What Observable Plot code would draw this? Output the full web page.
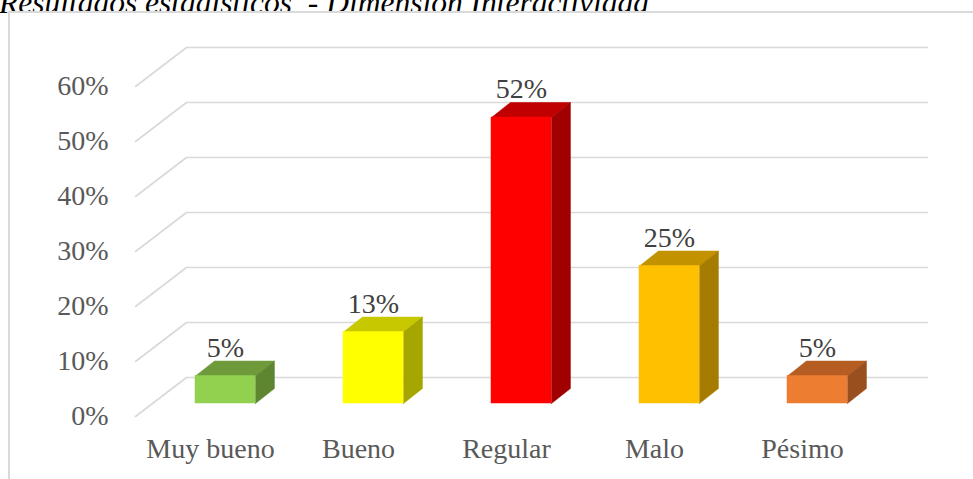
<!DOCTYPE html>
<html>
<head>
<meta charset="utf-8">
<script src="https://cdn.jsdelivr.net/npm/d3@7"></script>
<script src="https://cdn.jsdelivr.net/npm/@observablehq/plot@0.6"></script>
<style>
  html, body { margin: 0; padding: 0; background: #fff; }
  #wrap { position: relative; width: 973px; height: 479px; overflow: hidden; background: #fff; }
  #title { position: absolute; left: -1px; top: -13px; font-family: "Liberation Serif", "Times New Roman", serif; font-style: italic; font-size: 31.5px; line-height: 31.5px; color: #000; white-space: pre; }
  #frame { position: absolute; left: 8px; top: 11px; width: 980px; height: 480px; border-left: 2px solid #d9d9d9; border-top: 2px solid #d9d9d9; box-sizing: border-box; }
  #chart { position: absolute; left: 0; top: 0; }
</style>
</head>
<body>
<div id="wrap">
  <div id="title">Resultados estadísticos  - Dimensión Interactividad</div>
  <div id="frame"></div>
  <div id="chart"></div>
</div>
<script>
const categories = ["Muy bueno", "Bueno", "Regular", "Malo", "Pésimo"];
const values = [5, 13, 52, 25, 5];
const labels = ["5%", "13%", "52%", "25%", "5%"];
const frontColors = ["#92D050", "#FFFF00", "#FF0000", "#FFC000", "#ED7D31"];
const topColors = ["#6F9A3C", "#C8C800", "#C00000", "#C29200", "#B55D22"];
const sideColors = ["#5E8530", "#A6A600", "#A00000", "#A67C00", "#9A4F1E"];
const ticks = [0, 10, 20, 30, 40, 50, 60];
const tickLabels = ["0%", "10%", "20%", "30%", "40%", "50%", "60%"];

// geometry (in scale units)
const half = 0.2027;      // half bar width
const ddx = 0.128;        // depth offset x
const ddy = 2.727;        // depth offset y
const gridFrontX = -0.608, gridBackX = -0.2635, gridEndX = 4.743;
const gridFrontDY = -2.364, gridBackDY = 4.727;

const bars = categories.map((c, i) => ({i, c, v: values[i], label: labels[i]}));

const faces = [];
bars.forEach(b => {
  const x0 = b.i - half, x1 = b.i + half;
  [[x0, b.v], [x1, b.v], [x1 + ddx, b.v + ddy], [x0 + ddx, b.v + ddy], [x0, b.v]].forEach(([x, y]) =>
    faces.push({id: "t" + b.i, x, y, color: topColors[b.i]}));
  [[x1, 0], [x1, b.v], [x1 + ddx, b.v + ddy], [x1 + ddx, ddy], [x1, 0]].forEach(([x, y]) =>
    faces.push({id: "s" + b.i, x, y, color: sideColors[b.i]}));
});

const grid = [];
ticks.forEach(t => {
  grid.push({t, x: gridFrontX, y: t + gridFrontDY});
  grid.push({t, x: gridBackX, y: t + gridBackDY});
  grid.push({t, x: gridEndX, y: t + gridBackDY});
});
const tickData = ticks.map((t, k) => ({t, label: tickLabels[k]}));

const font = "Liberation Serif, Times New Roman, serif";

const chart = Plot.plot({
  width: 973,
  height: 479,
  marginTop: 0, marginBottom: 0, marginLeft: 0, marginRight: 0,
  style: {background: "transparent", overflow: "visible", fontFamily: font},
  x: {type: "linear", domain: [0, 4], range: [225, 817], axis: null},
  y: {type: "linear", domain: [0, 60], range: [403, 73], axis: null},
  color: {type: "identity"},
  marks: [
    Plot.line(grid, {x: "x", y: "y", z: "t", stroke: "#d9d9d9", strokeWidth: 1.6}),
    Plot.text(tickData, {x: () => gridFrontX, y: d => d.t + gridFrontDY, text: "label", textAnchor: "end", dx: -27, fontSize: 28, fill: "#595959", fontFamily: font}),
    Plot.line(faces, {x: "x", y: "y", z: "id", fill: "color", stroke: "color", strokeWidth: 0.5}),
    Plot.rect(bars, {x1: d => d.i - half, x2: d => d.i + half, y1: 0, y2: "v", fill: (d) => frontColors[d.i], stroke: (d) => frontColors[d.i], strokeWidth: 0.5}),
    Plot.text(bars, {x: "i", y: "v", text: "label", dy: -28, fontSize: 28, fill: "#404040", fontFamily: font}),
    Plot.text(bars, {x: "i", y: () => 0, text: "c", dx: -15, dy: 46, fontSize: 28, fill: "#595959", fontFamily: font})
  ]
});
document.getElementById("chart").appendChild(chart);
</script>
</body>
</html>
